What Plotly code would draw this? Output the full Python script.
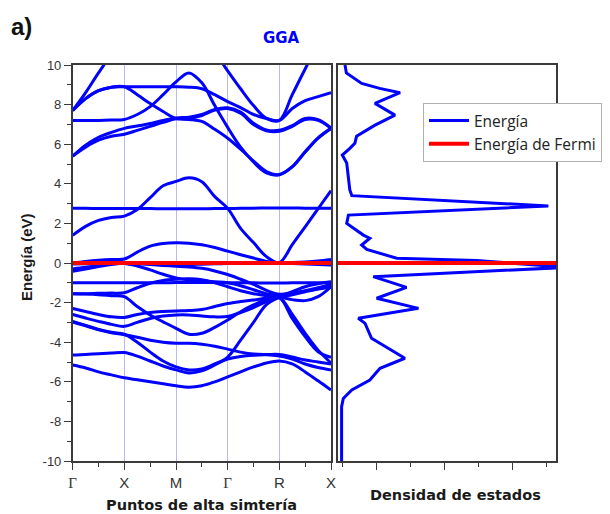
import plotly.graph_objects as go

# ---------------- data ----------------
K_POINTS = [0, 0.25, 0.5, 0.75, 1, 1.25, 1.5, 1.75, 2, 2.25, 2.5, 2.75, 3,
            3.25, 3.5, 3.75, 4, 4.25, 4.5, 4.75, 5]
K_TICKS = [0, 1, 2, 3, 4, 5]
K_LABELS = ["Γ", "X", "M", "Γ", "R", "X"]
E_TICKS = [-10, -8, -6, -4, -2, 0, 2, 4, 6, 8, 10]
E_LABELS = ["-10", "-8", "-6", "-4", "-2", "0", "2", "4", "6", "8", "10"]
FERMI = 0.0

# conduction bands (eV)
band_c_a = [7.7, 8.6, 9.6, 10.5, 11, 11, 11, 11, 11, 11, 11, 10.6, 9.7, 8.8, 7.95, 7.3, 7.2, 8.5, 9.8, 11, 11.5]
band_c_b = [7.7, 8.3, 8.7, 8.88, 8.9, 8.9, 8.9, 8.9, 8.9, 8.88, 8.8, 8.5, 8.15, 7.85, 7.5, 7.3, 7.2, 7.8, 8.2, 8.4, 8.6]
band_c_b2 = [7.7, 8.3, 8.7, 8.88, 8.9, 8.5, 8.05, 7.65, 7.3, 7.25, 7.15, 6.75, 6.3, 5.75, 5.15, 4.62, 4.47, 4.87, 5.62, 6.32, 6.8]
band_c_p = [7.2, 7.2, 7.2, 7.22, 7.25, 7.5, 7.9, 8.5, 9.15, 9.6, 9.1, 7.95, 6.85, 5.85, 5.1, 4.55, 4.45, 4.85, 5.6, 6.3, 6.8]
band_c_q1 = [5.4, 5.85, 6.2, 6.4, 6.5, 6.7, 6.9, 7.1, 7.28, 7.3, 7.45, 7.72, 7.8, 7.56, 7.0, 6.68, 6.65, 6.9, 7.25, 7.2, 6.8]
band_c_q2 = [5.4, 5.95, 6.35, 6.6, 6.8, 6.92, 7.05, 7.2, 7.33, 7.36, 7.5, 7.76, 7.84, 7.62, 7.06, 6.72, 6.7, 6.94, 7.3, 7.24, 6.82]
band_c1 = [1.4, 1.85, 2.15, 2.3, 2.37, 2.7, 3.3, 3.9, 4.12, 4.3, 4.1, 3.35, 2.76, 1.75, 1.03, 0.32, 0.02, 0.93, 1.83, 2.74, 3.65]
band_c_flat = [2.76, 2.76, 2.75, 2.75, 2.75, 2.75, 2.75, 2.74, 2.74, 2.74, 2.74, 2.75, 2.75, 2.76, 2.77, 2.78, 2.78, 2.78, 2.77, 2.77, 2.77]
band_c2 = [0.0, 0.08, 0.14, 0.18, 0.2, 0.55, 0.85, 0.98, 1.02, 1.0, 0.92, 0.78, 0.6, 0.42, 0.25, 0.08, 0.0, -0.02, -0.05, -0.08, -0.1]

# valence bands (eV)
band_v1 = [-0.05, -0.04, -0.03, -0.01, 0.0, -0.02, -0.04, -0.06, -0.08, -0.08, -0.06, -0.04, -0.03, -0.02, -0.01, 0.0, 0.0, 0.02, 0.05, 0.1, 0.18]
band_v2 = [-0.42, -0.3, -0.18, -0.07, -0.02, -0.15, -0.35, -0.57, -0.75, -0.86, -0.9, -0.95, -1.0, -1.15, -1.35, -1.55, -1.65, -1.45, -1.2, -1.05, -0.95]
band_v2a = [-0.3, -0.22, -0.12, -0.05, -0.01, -0.04, -0.08, -0.12, -0.16, -0.2, -0.27, -0.4, -0.58, -0.82, -1.08, -1.38, -1.58, -1.52, -1.42, -1.32, -1.22]
band_v3 = [-1.0, -1.0, -1.0, -1.0, -1.0, -1.0, -1.0, -1.0, -0.99, -0.98, -0.98, -0.99, -1.0, -1.0, -1.0, -1.01, -1.01, -1.0, -1.0, -1.0, -1.0]
band_v4 = [-1.55, -1.55, -1.53, -1.52, -1.5, -1.25, -1.02, -0.88, -0.82, -0.8, -0.85, -1.0, -1.2, -1.4, -1.55, -1.65, -1.7, -1.55, -1.4, -1.25, -1.1]
band_v5 = [-1.55, -1.57, -1.6, -1.65, -1.7, -2.2, -2.63, -2.97, -3.3, -3.6, -3.55, -3.25, -2.88, -2.46, -2.12, -1.84, -1.75, -2.8, -3.72, -4.48, -4.76]
band_v6 = [-2.3, -2.45, -2.6, -2.72, -2.75, -2.6, -2.5, -2.45, -2.42, -2.4, -2.35, -2.2, -2.05, -1.95, -1.87, -1.77, -1.72, -1.85, -1.9, -1.7, -1.2]
band_v7 = [-2.6, -2.78, -2.95, -3.1, -3.2, -3.0, -2.8, -2.68, -2.62, -2.62, -2.68, -2.72, -2.7, -2.5, -2.25, -1.95, -1.75, -2.6, -3.55, -4.4, -5.05]
band_v8 = [-2.95, -3.15, -3.35, -3.5, -3.6, -4.0, -4.5, -4.95, -5.25, -5.4, -5.35, -5.1, -4.85, -4.72, -4.66, -4.64, -4.7, -4.85, -5.1, -5.28, -5.4]
band_v9 = [-4.65, -4.62, -4.58, -4.55, -4.52, -4.7, -4.95, -5.2, -5.4, -5.55, -5.45, -5.15, -4.75, -3.9, -3.0, -2.1, -1.75, -1.6, -1.45, -1.3, -1.05]
band_v10 = [-5.15, -5.3, -5.5, -5.65, -5.8, -5.9, -6.0, -6.1, -6.2, -6.27, -6.2, -6.0, -5.75, -5.5, -5.25, -5.05, -4.95, -5.1, -5.5, -5.95, -6.42]
band_v11 = [-2.98, -3.17, -3.37, -3.52, -3.62, -3.75, -3.9, -4.0, -4.05, -4.05, -4.1, -4.2, -4.35, -4.5, -4.6, -4.62, -4.62, -4.75, -4.9, -5.0, -5.1]

BANDS = [band_c_a, band_c_b, band_c_b2, band_c_p, band_c_q1, band_c_q2,
         band_c1, band_c_flat, band_c2,
         band_v1, band_v2, band_v2a, band_v3, band_v4, band_v5, band_v6,
         band_v7, band_v8, band_v9, band_v10, band_v11]

# density of states (arbitrary units) vs energy (eV)
dos_energy = [10.0, 9.6, 9.07, 8.82, 8.6, 8.06, 7.47, 6.95, 6.4, 6.05, 5.8, 5.45, 5.05,
              4.4, 3.7, 3.4, 2.88, 2.42, 2.0, 1.41, 1.25, 0.91, 0.69, 0.24, 0.12, -0.22,
              -0.69, -1.23, -1.78, -2.29, -2.79, -3.05, -3.8, -4.81, -5.32, -5.91, -6.41,
              -6.84, -7.26, -10.0]
dos_values = [0.08, 0.12, 0.57, 1.1, 1.7, 0.96, 1.55, 0.95, 0.42, 0.37, 0.23, 0.0, 0.13,
              0.17, 0.22, 0.28, 6.06, 0.18, 0.13, 0.62, 0.81, 0.57, 0.72, 1.6, 3.95, 6.6,
              0.91, 1.89, 1.01, 2.24, 0.47, 0.67, 0.86, 1.84, 1.11, 0.81, 0.28,
              0.03, -0.02, -0.02]
DOS_RANGE = [-0.126, 6.285]
E_RANGE = [-10, 10]

# ---------------- figure ----------------
W, H = 610, 514
BLUE = "#0000ff"
RED = "#ff0000"
AX = "#3a3a3a"

fig = go.Figure()
for i, b in enumerate(BANDS):
    fig.add_trace(go.Scatter(
        x=K_POINTS, y=b, mode="lines",
        line=dict(color=BLUE, width=3, shape="spline", smoothing=1.0),
        name="Energía", legendgroup="e", showlegend=(i == 0),
        xaxis="x", yaxis="y", hoverinfo="skip"))

fig.add_trace(go.Scatter(
    x=dos_values, y=dos_energy, mode="lines",
    line=dict(color=BLUE, width=3), showlegend=False,
    xaxis="x2", yaxis="y2", hoverinfo="skip"))

fig.add_trace(go.Scatter(
    x=[K_TICKS[0], K_TICKS[-1]], y=[FERMI, FERMI], mode="lines",
    line=dict(color=RED, width=4), name="Energía de Fermi", legendgroup="f",
    xaxis="x", yaxis="y", hoverinfo="skip"))
fig.add_trace(go.Scatter(
    x=DOS_RANGE, y=[FERMI, FERMI], mode="lines",
    line=dict(color=RED, width=4), showlegend=False, legendgroup="f",
    xaxis="x2", yaxis="y2", hoverinfo="skip"))

def px_x(p):
    return p / W

def px_y(p):
    return 1 - p / H

ydom = [px_y(461), px_y(65)]
minor_k = [(a + b) / 2 for a, b in zip(K_TICKS[:-1], K_TICKS[1:])]
ticktext = [('<span style="font-family:Liberation Serif;">%s</span>' % t) if t == "Γ" else t
            for t in K_LABELS]

def label(text, x, y, size, family, color, angle=0):
    return dict(text=text, x=px_x(x), y=px_y(y), xref="paper", yref="paper",
                xanchor="center", yanchor="middle", showarrow=False,
                textangle=angle, font=dict(family=family, size=size, color=color))

fig.update_layout(
    width=W, height=H,
    margin=dict(l=0, r=0, t=0, b=0),
    paper_bgcolor="white", plot_bgcolor="white",
    showlegend=True,
    xaxis=dict(domain=[px_x(72.7), px_x(331)], range=[K_TICKS[0], K_TICKS[-1]],
               anchor="y", tickmode="array", tickvals=K_TICKS, ticktext=ticktext,
               ticks="outside", ticklen=7, tickwidth=1.2, tickcolor=AX,
               tickfont=dict(family="Liberation Sans, Arial", size=15, color="#333"),
               showline=True, linecolor=AX, linewidth=1.5, mirror=True,
               showgrid=True, gridcolor="#b8b8ff", gridwidth=1.2, zeroline=False,
               minor=dict(tickmode="array", tickvals=minor_k, ticks="outside",
                          ticklen=4, tickwidth=1.2, tickcolor=AX, showgrid=False),
               automargin=False),
    yaxis=dict(domain=ydom, range=E_RANGE, anchor="x",
               tickmode="array", tickvals=E_TICKS, ticktext=E_LABELS,
               ticks="outside", ticklen=7, tickwidth=1.2, tickcolor=AX,
               tickfont=dict(family="Liberation Sans, Arial", size=13, color="#333"),
               showline=True, linecolor=AX, linewidth=1.5, mirror=True,
               showgrid=False, zeroline=False,
               minor=dict(dtick=1, ticks="outside", ticklen=4, tickwidth=1.2,
                          tickcolor=AX, showgrid=False),
               automargin=False),
    xaxis2=dict(domain=[px_x(338), px_x(556)], range=DOS_RANGE, anchor="y2",
                tick0=1, dtick=2, ticks="outside", ticklen=7, tickwidth=1.2,
                tickcolor=AX, showticklabels=False,
                showline=True, linecolor=AX, linewidth=1.5, mirror=True,
                showgrid=False, zeroline=False,
                minor=dict(tick0=0, dtick=1, ticks="outside", ticklen=4,
                           tickwidth=1.2, tickcolor=AX, showgrid=False),
                automargin=False),
    yaxis2=dict(domain=ydom, range=E_RANGE, anchor="x2", showticklabels=False,
                ticks="", showline=True, linecolor=AX, linewidth=1.5, mirror=True,
                showgrid=False, zeroline=False, automargin=False),
    legend=dict(x=px_x(423), y=px_y(103), xanchor="left", yanchor="top",
                bgcolor="white", bordercolor="#b0b0b0", borderwidth=1,
                font=dict(family="Open Sans, Noto Sans", size=15.5, color="#222"),
                itemwidth=40, tracegroupgap=0),
    annotations=[
        label("<b>a)</b>", 21, 26, 24, "Liberation Sans, Arial", "#111"),
        label("<b>GGA</b>", 281, 38, 15, "DejaVu Sans", BLUE),
        label("<b>Energía (eV)</b>", 26, 257, 15, "Liberation Sans, Arial", "#1a1a1a", -90),
        label("<b>Puntos de alta simtería</b>", 201, 505, 14.5, "DejaVu Sans", "#1a1a1a"),
        label("<b>Densidad de estados</b>", 455, 495, 14.5, "DejaVu Sans", "#1a1a1a"),
    ],
)

fig.write_html("out.html")
